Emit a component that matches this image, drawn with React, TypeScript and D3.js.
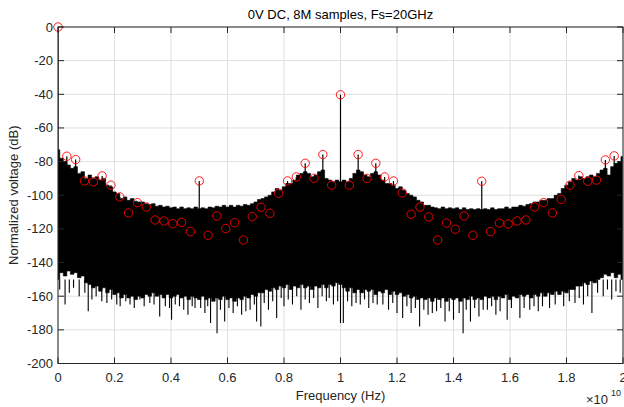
import React from 'react';
import * as d3 from 'd3';

// upper edge of the noise band, [GHz, dB]
const upperEdge: [number, number][] = [
  [0, -73], [0.125, -78], [0.25, -80], [0.375, -82], [0.5, -84], [0.625, -83], [0.75, -87], [0.875, -86],
  [1, -90], [1.125, -88], [1.25, -90], [1.375, -89], [1.5, -91], [1.625, -90], [1.75, -94], [1.875, -95],
  [2, -98], [2.125, -99], [2.25, -102], [2.375, -101], [2.5, -103], [2.625, -102], [2.75, -103.5], [2.875, -104],
  [3, -104], [3.125, -105], [3.25, -105.5], [3.375, -105], [3.5, -106.5], [3.625, -106], [3.75, -107], [3.875, -106.5],
  [4, -107.5], [4.125, -107], [4.25, -108], [4.375, -107], [4.5, -108], [4.625, -107.5], [4.75, -108], [4.875, -107],
  [5, -108], [5.125, -107.5], [5.25, -108], [5.375, -107], [5.5, -107.5], [5.625, -106.5], [5.75, -107], [5.875, -106],
  [6, -107], [6.125, -106], [6.25, -107], [6.375, -106], [6.5, -106.5], [6.625, -105.5], [6.75, -106], [6.875, -105],
  [7, -104], [7.125, -102.5], [7.25, -102], [7.375, -101], [7.5, -100], [7.625, -98], [7.75, -96], [7.875, -97],
  [8, -95], [8.125, -93], [8.25, -93], [8.375, -91], [8.5, -88], [8.625, -87], [8.75, -86], [8.875, -87],
  [9, -89], [9.125, -88], [9.25, -86], [9.375, -85], [9.5, -90], [9.625, -91], [9.75, -92], [9.875, -91],
  [10, -92], [10.125, -91], [10.25, -92], [10.375, -90], [10.5, -87], [10.625, -85], [10.75, -86], [10.875, -88],
  [11, -89], [11.125, -87], [11.25, -86], [11.375, -88], [11.5, -91], [11.625, -93], [11.75, -93], [11.875, -94],
  [12, -96], [12.125, -95], [12.25, -97], [12.375, -99], [12.5, -100], [12.625, -101], [12.75, -103], [12.875, -104],
  [13, -106], [13.125, -106], [13.25, -107], [13.375, -107.5], [13.5, -108], [13.625, -107], [13.75, -108], [13.875, -107.5],
  [14, -108], [14.125, -107.5], [14.25, -108.5], [14.375, -107.5], [14.5, -108.5], [14.625, -108], [14.75, -108.5], [14.875, -108],
  [15, -108.5], [15.125, -108], [15.25, -108.5], [15.375, -107.5], [15.5, -108.5], [15.625, -108], [15.75, -108], [15.875, -107],
  [16, -108], [16.125, -107], [16.25, -107], [16.375, -106], [16.5, -106.5], [16.625, -105.5], [16.75, -105], [16.875, -104],
  [17, -104], [17.125, -103], [17.25, -103], [17.375, -102], [17.5, -102], [17.625, -100], [17.75, -99], [17.875, -96],
  [18, -94], [18.125, -92], [18.25, -90], [18.375, -91], [18.5, -89], [18.625, -90], [18.75, -89], [18.875, -88],
  [19, -89], [19.125, -87], [19.25, -85], [19.375, -84], [19.5, -88], [19.625, -83], [19.75, -81], [19.875, -80], [19.98, -77],
];

// lower edge of the noise band, [GHz, dB]
const lowerEdge: [number, number][] = [
  [0, -150], [0.125, -146], [0.25, -148], [0.375, -145], [0.5, -147], [0.625, -146], [0.75, -149], [0.875, -148],
  [1, -152], [1.125, -153], [1.25, -155], [1.375, -154], [1.5, -157], [1.625, -155], [1.75, -158], [1.875, -156],
  [2, -159], [2.125, -158], [2.25, -161], [2.375, -159], [2.5, -161], [2.625, -160], [2.75, -162], [2.875, -160],
  [3, -161], [3.125, -159], [3.25, -160], [3.375, -158], [3.5, -160], [3.625, -159], [3.75, -161], [3.875, -159],
  [4, -161], [4.125, -160], [4.25, -159], [4.375, -161], [4.5, -160], [4.625, -162], [4.75, -160], [4.875, -161],
  [5, -162], [5.125, -160], [5.25, -162], [5.375, -161], [5.5, -163], [5.625, -161], [5.75, -162], [5.875, -160],
  [6, -162], [6.125, -161], [6.25, -163], [6.375, -161], [6.5, -162], [6.625, -160], [6.75, -161], [6.875, -159],
  [7, -160], [7.125, -158], [7.25, -158], [7.375, -156], [7.5, -157], [7.625, -155], [7.75, -156], [7.875, -154],
  [8, -155], [8.125, -153], [8.25, -156], [8.375, -154], [8.5, -155], [8.625, -153], [8.75, -155], [8.875, -154],
  [9, -156], [9.125, -154], [9.25, -155], [9.375, -153], [9.5, -155], [9.625, -153], [9.75, -154], [9.875, -152],
  [10, -153], [10.125, -155], [10.25, -157], [10.375, -155], [10.5, -158], [10.625, -156], [10.75, -158], [10.875, -156],
  [11, -157], [11.125, -156], [11.25, -159], [11.375, -157], [11.5, -158], [11.625, -156], [11.75, -159], [11.875, -157],
  [12, -159], [12.125, -158], [12.25, -160], [12.375, -159], [12.5, -161], [12.625, -160], [12.75, -162], [12.875, -161],
  [13, -162], [13.125, -161], [13.25, -163], [13.375, -161], [13.5, -162], [13.625, -161], [13.75, -163], [13.875, -161],
  [14, -162], [14.125, -161], [14.25, -163], [14.375, -161], [14.5, -162], [14.625, -160], [14.75, -162], [14.875, -161],
  [15, -162], [15.125, -160], [15.25, -161], [15.375, -160], [15.5, -162], [15.625, -160], [15.75, -161], [15.875, -159],
  [16, -162], [16.125, -160], [16.25, -161], [16.375, -159], [16.5, -160], [16.625, -159], [16.75, -161], [16.875, -159],
  [17, -160], [17.125, -158], [17.25, -160], [17.375, -158], [17.5, -159], [17.625, -157], [17.75, -159], [17.875, -157],
  [18, -158], [18.125, -156], [18.25, -156], [18.375, -154], [18.5, -154], [18.625, -152], [18.75, -153], [18.875, -151],
  [19, -152], [19.125, -150], [19.25, -149], [19.375, -147], [19.5, -148], [19.625, -146], [19.75, -149], [19.875, -147], [19.98, -150],
];

// downward noise spikes below the band, [GHz, dB]
const dips: [number, number][] = [
  [0.06, -156], [0.25, -165], [0.4, -158], [0.55, -155], [0.75, -160], [0.95, -158], [1.07, -169], [1.2, -162],
  [1.35, -160], [1.55, -163], [1.73, -164], [1.9, -162], [2.08, -165], [2.2, -166], [2.4, -163], [2.55, -165],
  [2.7, -167], [2.9, -162], [3.05, -166], [3.25, -164], [3.4, -165], [3.6, -172], [3.8, -166], [3.95, -167],
  [4.02, -174], [4.15, -165], [4.3, -166], [4.45, -168], [4.6, -171], [4.75, -166], [4.85, -167], [5.05, -167],
  [5.2, -170], [5.3, -166], [5.4, -176], [5.63, -182], [5.75, -168], [5.9, -175], [6.05, -167], [6.2, -170],
  [6.35, -166], [6.5, -171], [6.65, -169], [6.8, -168], [6.95, -165], [7.03, -175], [7.18, -178], [7.3, -164],
  [7.45, -168], [7.6, -163], [7.74, -173], [7.9, -161], [8, -166], [8.15, -162], [8.3, -165], [8.45, -160],
  [8.6, -168], [8.75, -162], [8.9, -164], [9.05, -161], [9.2, -167], [9.35, -160], [9.5, -163], [9.6, -161],
  [9.75, -165], [9.9, -163], [10, -176], [10.1, -176], [10.25, -163], [10.4, -166], [10.55, -164], [10.7, -165],
  [10.85, -162], [11, -167], [11.15, -164], [11.3, -165], [11.5, -165], [11.7, -168], [11.85, -164], [12, -170],
  [12.2, -173], [12.35, -166], [12.5, -170], [12.65, -167], [12.8, -178], [12.95, -168], [13.1, -171], [13.25, -170],
  [13.4, -169], [13.55, -167], [13.7, -175], [13.85, -169], [14, -174], [14.2, -170], [14.34, -182], [14.45, -168],
  [14.6, -175], [14.75, -167], [14.9, -172], [15.05, -168], [15.2, -168], [15.35, -166], [15.5, -171], [15.65, -169],
  [15.9, -174], [16.05, -167], [16.35, -173], [16.5, -167], [16.7, -168], [16.85, -166], [17, -169], [17.15, -166],
  [17.4, -167], [17.6, -165], [17.9, -166], [18.1, -163], [18.3, -164], [18.45, -161], [18.6, -165], [18.75, -160],
  [18.9, -170], [19.1, -158], [19.3, -160], [19.45, -156], [19.6, -162], [19.75, -157], [19.9, -158],
];

// marked harmonic bins, [GHz, dB]
const peaks: [number, number][] = [
  [0, 0], [0.3125, -76.8], [0.625, -78.8], [0.9375, -91.5], [1.25, -92], [1.5625, -88.5], [1.875, -94], [2.1875, -101],
  [2.5, -110.5], [2.8125, -104.4], [3.125, -107], [3.4375, -114.7], [3.75, -115.3], [4.0625, -116.9], [4.375, -116.1], [4.6875, -121.6],
  [5, -91.5], [5.3125, -123.8], [5.625, -112.3], [5.9375, -119.8], [6.25, -116.3], [6.5625, -126.6], [6.875, -112.7], [7.1875, -107.1],
  [7.5, -110.7], [7.8125, -98.8], [8.125, -91.5], [8.4375, -89.1], [8.75, -81], [9.0625, -89.9], [9.375, -75.8], [9.6875, -94],
  [10, -40.3], [10.3125, -94], [10.625, -75.8], [10.9375, -90], [11.25, -81], [11.5625, -89.1], [11.875, -91.5], [12.1875, -98.6],
  [12.5, -111.3], [12.8125, -107], [13.125, -112.9], [13.4375, -126.6], [13.75, -116.5], [14.0625, -120.2], [14.375, -112.3], [14.6875, -123.8],
  [15, -91.7], [15.3125, -121.6], [15.625, -116.5], [15.9375, -117.1], [16.25, -115.3], [16.5625, -114.7], [16.875, -107], [17.1875, -104.4],
  [17.5, -110.5], [17.8125, -102.5], [18.125, -94], [18.4375, -88.3], [18.75, -91.7], [19.0625, -91], [19.375, -79], [19.6875, -76.6],
];

const xTicks = [0, 0.2, 0.4, 0.6, 0.8, 1, 1.2, 1.4, 1.6, 1.8, 2];
const yTicks = [0, -20, -40, -60, -80, -100, -120, -140, -160, -180, -200];

const W = 624;
const H = 407;
const left = 58, right = 623, top = 27, bottom = 363.5;
const ink = '#262626';
const font = 'Arial, "Liberation Sans", Helvetica, sans-serif';

export default function App() {
  const x = d3.scaleLinear().domain([0, 2e10]).range([left, right]);
  const y = d3.scaleLinear().domain([-200, 0]).range([bottom, top]);
  const g = (f: number) => x(f * 1e9);

  const band = d3.area<[number, number]>()
    .curve(d3.curveStep)
    .x(d => g(d[0]))
    .y1(d => y(d[1]))
    .y0((d, i) => y(lowerEdge[i][1]));

  const tickLen = 6;

  return (
    <svg width={W} height={H} style={{ position: 'absolute', left: 0, top: 0, background: '#fff' }}
      fontFamily={font}>
      <rect x={0} y={0} width={W} height={H} fill="#fff" />
      {/* grid */}
      {xTicks.map(t => (
        <line key={'gx' + t} x1={x(t * 1e10)} x2={x(t * 1e10)} y1={top} y2={bottom} stroke="#dfdfdf" strokeWidth={1} />
      ))}
      {yTicks.map(t => (
        <line key={'gy' + t} x1={left} x2={right} y1={y(t)} y2={y(t)} stroke="#dfdfdf" strokeWidth={1} />
      ))}
      <defs>
        <clipPath id="plotclip">
          <rect x={left} y={top - 6} width={right - left} height={bottom - top + 6} />
        </clipPath>
      </defs>
      <g clipPath="url(#plotclip)">
        <path d={band(upperEdge) || ''} fill="#000" stroke="#000" strokeWidth={0.6} />
        {dips.map((d, i) => (
          <line key={'d' + i} x1={g(d[0])} x2={g(d[0])} y1={y(-150)} y2={y(d[1])} stroke="#000" strokeWidth={1.1} />
        ))}
        {peaks.map((d, i) => (
          <line key={'s' + i} x1={g(d[0])} x2={g(d[0])} y1={y(-130)} y2={y(d[1])} stroke="#000" strokeWidth={1.2} />
        ))}
      </g>
      {peaks.map((d, i) => (
        <circle key={'m' + i} cx={g(d[0])} cy={y(d[1])} r={4.2} fill="none" stroke="#ff0000" strokeWidth={0.9} />
      ))}
      {/* axes box */}
      <rect x={left} y={top} width={right - left} height={bottom - top} fill="none" stroke={ink} strokeWidth={1} />
      {xTicks.map(t => (
        <g key={'tx' + t}>
          <line x1={x(t * 1e10)} x2={x(t * 1e10)} y1={bottom} y2={bottom - tickLen} stroke={ink} />
          <line x1={x(t * 1e10)} x2={x(t * 1e10)} y1={top} y2={top + tickLen} stroke={ink} />
          <text x={x(t * 1e10)} y={382} textAnchor="middle" fontSize={13} fill={ink}>{t}</text>
        </g>
      ))}
      {yTicks.map(t => (
        <g key={'ty' + t}>
          <line x1={left} x2={left + tickLen} y1={y(t)} y2={y(t)} stroke={ink} />
          <line x1={right} x2={right - tickLen} y1={y(t)} y2={y(t)} stroke={ink} />
          <text x={53} y={y(t) + 4.5} textAnchor="end" fontSize={13} fill={ink}>{t}</text>
        </g>
      ))}
      <text x={(left + right) / 2} y={19} textAnchor="middle" fontSize={13} fill="#000">0V DC, 8M samples, Fs=20GHz</text>
      <text x={(left + right) / 2} y={400} textAnchor="middle" fontSize={13} fill={ink}>Frequency (Hz)</text>
      <text transform={`translate(18, ${(top + bottom) / 2}) rotate(-90)`} textAnchor="middle" fontSize={13} fill={ink}>
        Normalized voltage (dB)
      </text>
      <text x={586} y={404} fontSize={13} fill={ink}>×10</text>
      <text x={611} y={396} fontSize={9} fill={ink}>10</text>
    </svg>
  );
}
